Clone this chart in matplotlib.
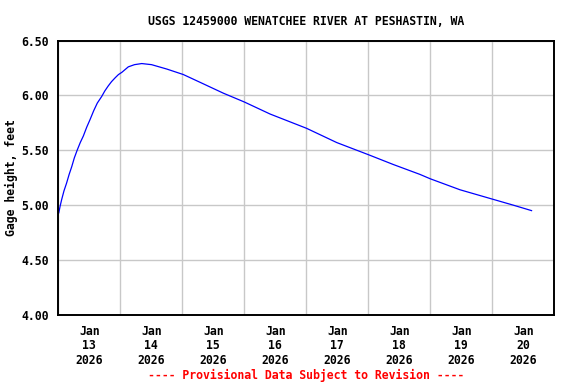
import matplotlib
matplotlib.use("Agg")
import matplotlib.pyplot as plt
import datetime as dt

title = "USGS 12459000 WENATCHEE RIVER AT PESHASTIN, WA"
ylabel = "Gage height, feet"
footer = "---- Provisional Data Subject to Revision ----"

# hours since 2026-01-13 00:00
hours = [0.2, 0.7, 1.3, 2.2, 3.2, 4.2, 5.2, 6.2, 7.3, 8.5, 9.7, 11.0, 12.3, 13.7, 15.1,
         16.8, 18.0, 19.3, 20.6, 22.0, 23.3, 24.6, 27.1, 29.5,
         32.3, 36.1, 42.0, 48.4, 54.8, 63.9, 72.0, 82.0, 96.1, 107.8, 120.0,
         129.7, 140.0, 144.0, 155.5, 168.0, 176.1, 183.2]
gage = [4.93, 4.99, 5.05, 5.13, 5.20, 5.28, 5.35, 5.43, 5.50, 5.57, 5.63, 5.71, 5.78, 5.86, 5.93,
        5.99, 6.04, 6.085, 6.125, 6.16, 6.19, 6.21, 6.26, 6.28,
        6.29, 6.28, 6.24, 6.19, 6.12, 6.02, 5.94, 5.83, 5.70, 5.57, 5.46,
        5.37, 5.28, 5.24, 5.14, 5.055, 5.00, 4.95]

yticks = [4.00, 4.50, 5.00, 5.50, 6.00, 6.50]
day_labels = ["Jan\n13\n2026", "Jan\n14\n2026", "Jan\n15\n2026", "Jan\n16\n2026",
              "Jan\n17\n2026", "Jan\n18\n2026", "Jan\n19\n2026", "Jan\n20\n2026"]

start = dt.datetime(2026, 1, 13)
times = [start + dt.timedelta(hours=h) for h in hours]

font = dict(family="DejaVu Sans Mono", weight="bold", size=8.3)

fig = plt.figure(figsize=(5.76, 3.84), dpi=100)
ax = fig.add_axes([0.1012, 0.1800, 0.8611, 0.7145])

ax.plot(times, gage, color="#0000ff", linewidth=0.9)

ax.set_xlim(start, start + dt.timedelta(days=8))
ax.set_ylim(4.0, 6.5)

midnights = [start + dt.timedelta(days=i) for i in range(9)]
noons = [start + dt.timedelta(days=i, hours=12) for i in range(8)]
ax.set_xticks(midnights)
ax.set_xticklabels([])
ax.set_xticks(noons, minor=True)
ax.set_xticklabels(day_labels, minor=True, **font, linespacing=1.15)
ax.tick_params(axis="x", which="both", length=0, pad=7)

ax.set_yticks(yticks)
ax.set_yticklabels([f"{v:.2f}" for v in yticks], **font)
ax.tick_params(axis="y", length=0, pad=7)

ax.grid(True, which="major", color="#c8c8c8", linewidth=1.0)
ax.set_axisbelow(True)
for s in ax.spines.values():
    s.set_linewidth(1.4)
    s.set_color("black")

ax.set_ylabel(ylabel, **font, labelpad=2)
ax.set_title(title, **font, pad=11)
fig.text(0.531, 0.023, footer, color="#ff0000", ha="center", va="center", **font)

fig.savefig("out.png", dpi=100)
